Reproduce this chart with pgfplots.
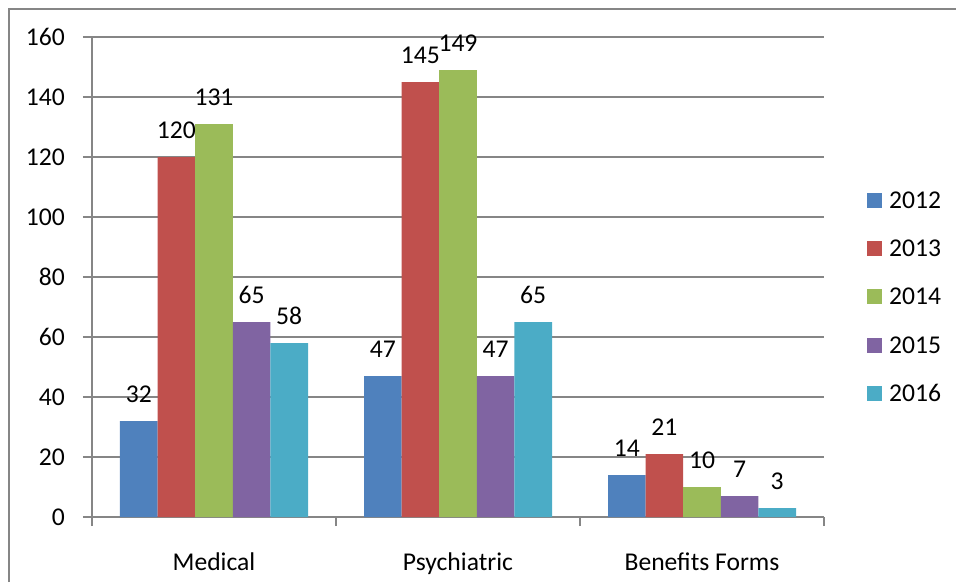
\documentclass[border=0pt]{standalone}
\usepackage{pgfplots}
\pgfplotsset{compat=1.18}
\usepackage{fontspec}
\setmainfont{Carlito}

\definecolor{gridgray}{RGB}{134,134,134}
\definecolor{c2012}{RGB}{79,129,189}
\definecolor{c2013}{RGB}{192,80,77}
\definecolor{c2014}{RGB}{155,187,89}
\definecolor{c2015}{RGB}{128,100,162}
\definecolor{c2016}{RGB}{75,172,198}

% requests by category (0 = Medical, 1 = Psychiatric, 2 = Benefits Forms)
\pgfplotstableread{
x y
0 32
1 47
2 14
}\tblA
\pgfplotstableread{
x y
0 120
1 145
2 21
}\tblB
\pgfplotstableread{
x y
0 131
1 149
2 10
}\tblC
\pgfplotstableread{
x y
0 65
1 47
2 7
}\tblD
\pgfplotstableread{
x y
0 58
1 65
2 3
}\tblE

\begin{document}
\begin{tikzpicture}[x=1pt,y=1pt,font=\fontsize{25.6pt}{30pt}\selectfont]
\useasboundingbox (0,0) rectangle (956,-582);
% chart frame
\draw[gridgray,line width=1.8pt] (9,-582) -- (9,-9) -- (956,-9);
\begin{axis}[
  at={(92pt,-517pt)}, anchor=south west,
  scale only axis, width=732pt, height=480pt,
  xmin=-0.5, xmax=2.5, ymin=0, ymax=160,
  ybar=0pt, bar width=37.6pt,
  axis x line*=bottom, axis y line*=left,
  axis line style={-, draw=gridgray, line width=1.6pt},
  ymajorgrids, grid style={gridgray, line width=1.6pt},
  ytick={0,20,...,160},
  tick align=outside, major tick length=9pt, minor tick length=9pt,
  tick style={draw=gridgray, line width=1.6pt},
  xtick={0,1,2},
  xticklabels={Medical, Psychiatric, Benefits Forms},
  major x tick style={draw=none},
  minor xtick={-0.5,0.5,1.5,2.5},
  minor x tick style={draw=gridgray, line width=1.6pt},
  /pgf/number format/assume math mode=true,
  yticklabel style={anchor=east, inner sep=0pt, xshift=-18pt},
  xticklabel style={anchor=base, inner sep=0pt, yshift=-44pt},
  nodes near coords,
  every node near coord/.append style={anchor=base, inner sep=0pt, yshift=19pt, text=black},
  legend style={draw=none, fill=none, at={(rel axis cs:1.0587,0.677)}, anchor=north west,
    inner sep=0pt, row sep=32.3pt, column sep=7pt,
    nodes={inner sep=0pt, text height=16pt, text depth=0pt}},
  legend cell align=left,
  legend image code/.code={\fill[#1] (0pt,-7.5pt) rectangle (15pt,7.5pt);},
]
\addplot[fill=c2012, draw=none] table {\tblA};
\addplot[fill=c2013, draw=none] table {\tblB};
\addplot[fill=c2014, draw=none] table {\tblC};
\addplot[fill=c2015, draw=none] table {\tblD};
\addplot[fill=c2016, draw=none] table {\tblE};
\legend{2012,2013,2014,2015,2016}
\end{axis}
\end{tikzpicture}
\end{document}
